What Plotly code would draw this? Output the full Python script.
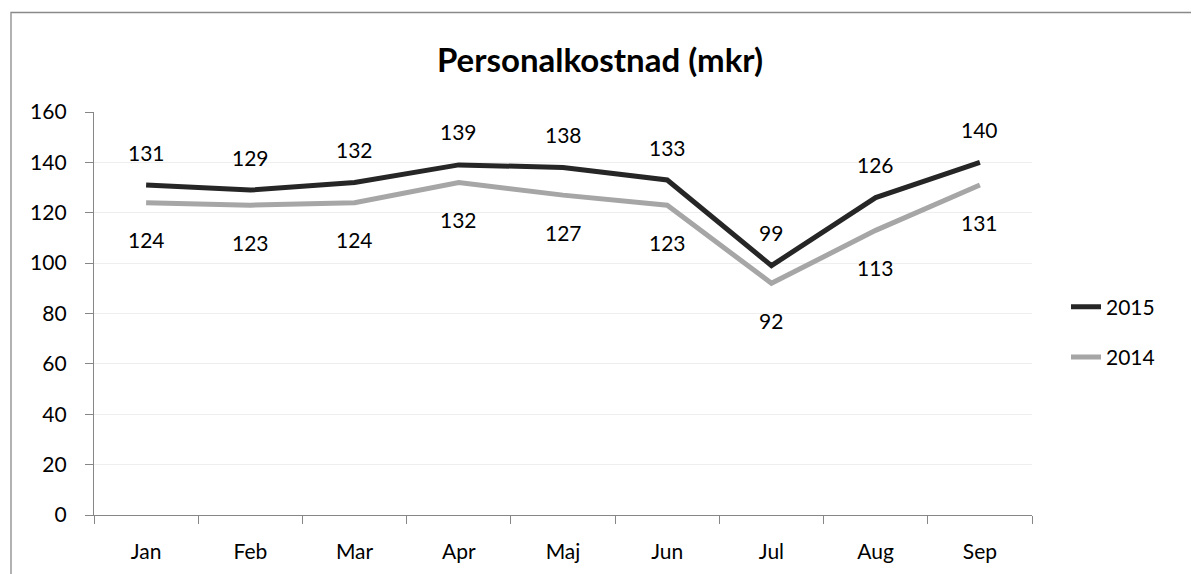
import plotly.graph_objects as go

months = ["Jan", "Feb", "Mar", "Apr", "Maj", "Jun", "Jul", "Aug", "Sep"]
v2015 = [131, 129, 132, 139, 138, 133, 99, 126, 140]
v2014 = [124, 123, 124, 132, 127, 123, 92, 113, 131]
y_ticks = [0, 20, 40, 60, 80, 100, 120, 140, 160]

FONT = "Lato"
C2015 = "#262626"
C2014 = "#a6a6a6"

fig = go.Figure()
fig.add_trace(go.Scatter(x=months, y=v2015, name="2015", mode="lines",
                         line=dict(color=C2015, width=5), legendgroup="a"))
fig.add_trace(go.Scatter(x=months, y=v2014, name="2014", mode="lines",
                         line=dict(color=C2014, width=5), legendgroup="b"))

annotations = []
for m, v in zip(months, v2015):
    annotations.append(dict(x=m, y=v, text=str(v), showarrow=False, yshift=33,
                            font=dict(family=FONT, size=21, color="#000")))
for m, v in zip(months, v2014):
    annotations.append(dict(x=m, y=v, text=str(v), showarrow=False, yshift=-37,
                            font=dict(family=FONT, size=21, color="#000")))

# page body has an 8px margin; plot area target: x 94..1032, y 112..516
L, T, PW, PH = 86, 104, 938, 403.4
fig.update_layout(
    width=1199, height=574,
    margin=dict(l=L, r=1199 - L - PW, t=T, b=574 - T - PH),
    paper_bgcolor="white", plot_bgcolor="white",
    font=dict(family=FONT, size=21, color="#000"),
    title=dict(text="<b>Personalkostnad (mkr)</b>", x=592 / 1199, xanchor="center",
               y=1 - 52 / 574, yanchor="middle",
               font=dict(family=FONT, size=33, color="#000")),
    showlegend=True,
    legend=dict(x=(1066 - 94) / PW, xanchor="left", y=0.454, yanchor="middle",
                font=dict(family=FONT, size=21, color="#000"),
                tracegroupgap=20, traceorder="grouped",
                bgcolor="rgba(0,0,0,0)"),
    annotations=annotations,
    xaxis=dict(type="category", range=[-0.5, 8.5], tickson="boundaries",
               ticks="outside", ticklen=8, tickcolor="#868686",
               showline=True, linecolor="#868686", linewidth=1.3,
               showgrid=False, zeroline=False, ticklabelstandoff=18,
               tickfont=dict(family=FONT, size=21, color="#000")),
    yaxis=dict(range=[0, 160], tickvals=y_ticks, ticks="outside", ticklen=8,
               tickcolor="#868686", showline=True, linecolor="#868686",
               linewidth=1.3, showgrid=True, gridcolor="#eeeeee", gridwidth=1,
               zeroline=False, ticklabelstandoff=14,
               tickfont=dict(family=FONT, size=21, color="#000")),
    shapes=[dict(type="rect", xref="paper", yref="paper",
                 x0=(11 - 94) / PW, x1=(1198 - 94) / PW,
                 y0=(516 - 600) / PH, y1=(516 - 13) / PH,
                 line=dict(color="#898989", width=1.3), layer="below")],
)

fig.write_html("out.html")
